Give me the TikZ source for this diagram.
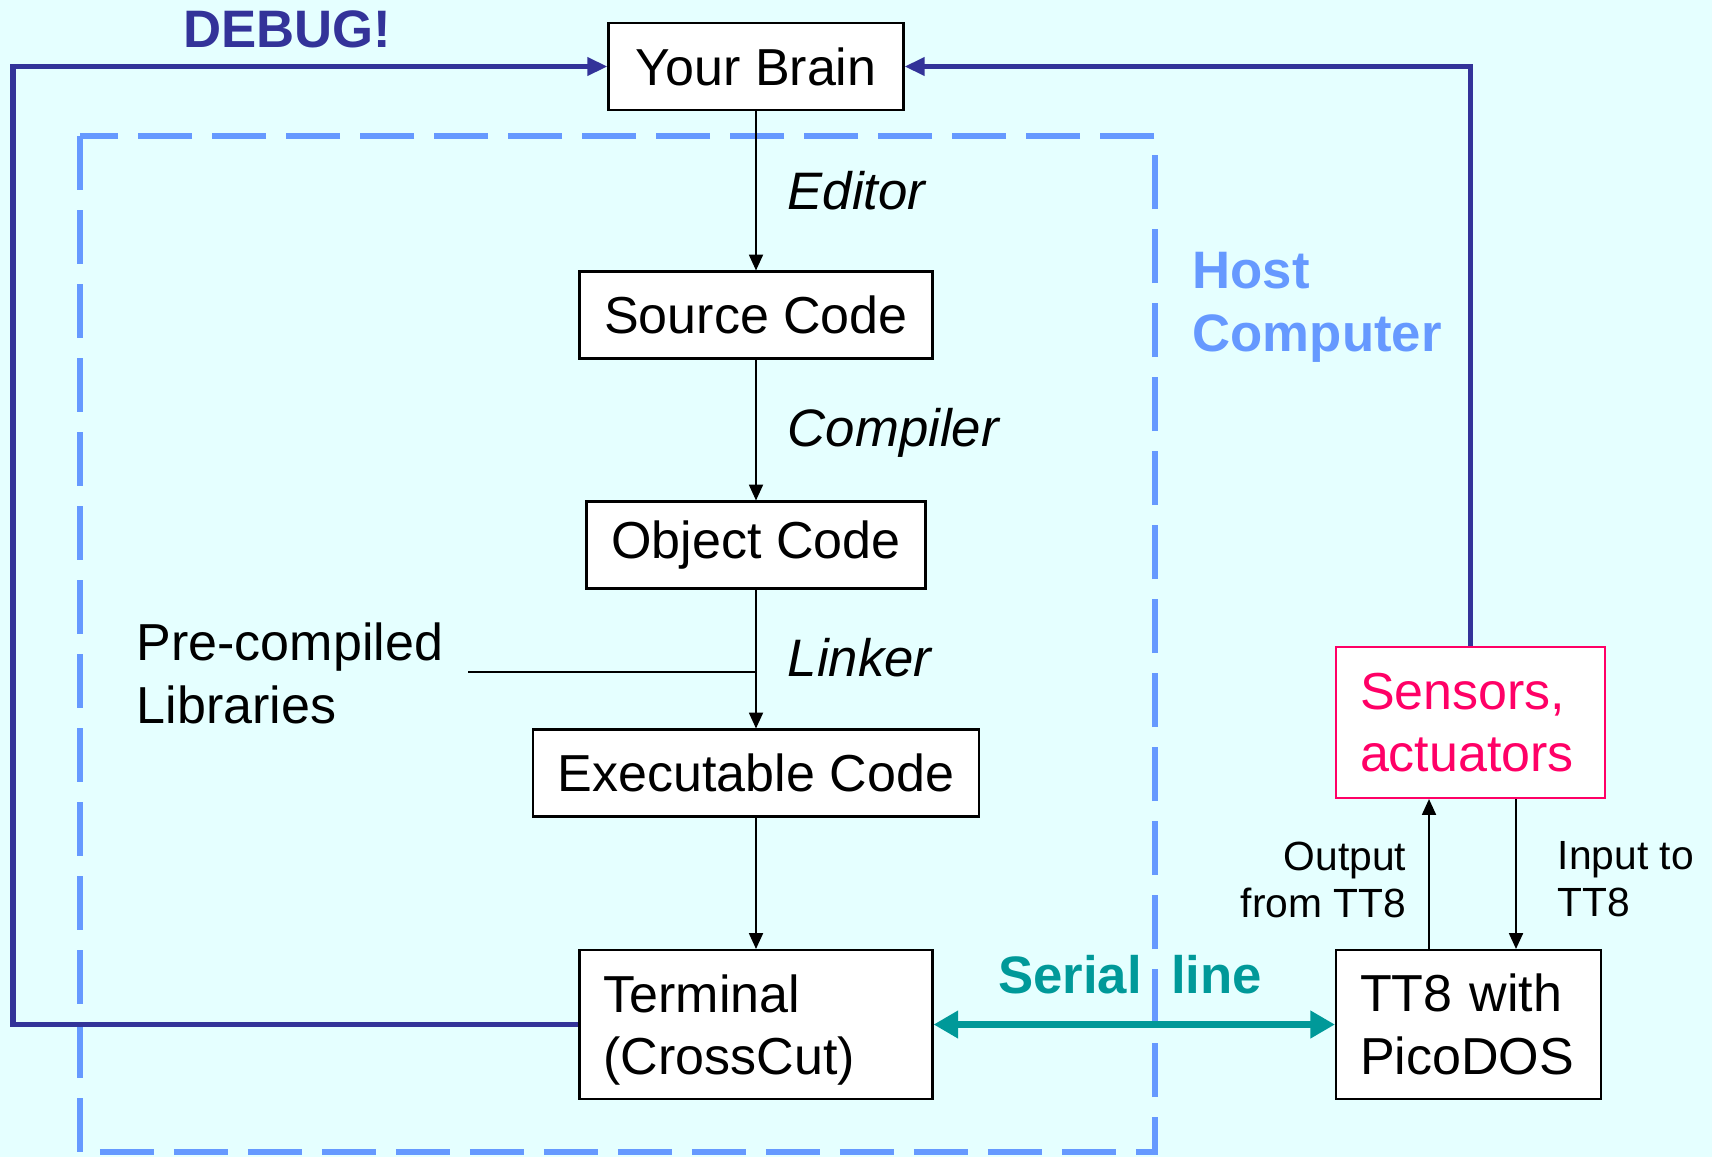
\documentclass[tikz,border=0pt]{standalone}
\usepackage{fontspec}
\setmainfont{Liberation Sans}
\usetikzlibrary{arrows.meta}
\definecolor{bgcyan}{RGB}{229,255,255}
\definecolor{debugblue}{RGB}{51,51,153}
\definecolor{hostblue}{RGB}{102,153,255}
\definecolor{serialteal}{RGB}{0,153,153}
\definecolor{sensorpink}{RGB}{255,0,102}
\tikzset{
  box/.style={draw=black,line width=0.6pt,fill=white,inner sep=0pt,
    minimum height=0.87cm,font=\fontsize{14.8}{17.8}\selectfont},
  tallbox/.style={box,minimum height=1.49cm,text width=#1,align=left,
    inner xsep=0.24cm},
  toollabel/.style={anchor=west,inner sep=0pt,font=\fontsize{15}{18}\selectfont\itshape},
  smalllabel/.style={inner sep=0pt,font=\fontsize{11.6}{13.4}\selectfont},
  flow/.style={line width=0.45pt,-{Triangle[length=4.5pt,width=4pt]}},
  debugline/.style={draw=debugblue,line width=1.6pt,
    -{Triangle[length=5.7pt,width=5pt]}},
  serialline/.style={draw=serialteal,line width=2pt,
    {Triangle[length=7pt,width=7.5pt]}-{Triangle[length=7pt,width=7.5pt]}},
  hostframe/.style={draw=hostblue,line width=1.5pt,dash pattern=on 0.54cm off 0.2cm}
}
\begin{document}
\begin{tikzpicture}
  \fill[bgcyan] (0,0) rectangle (17.12,-11.57);
  \useasboundingbox (0,0) rectangle (17.12,-11.57);
  % host computer frame
  \draw[hostframe] (0.80,-1.36) rectangle (11.55,-11.52);
  \draw
    (7.56,-0.665) node[box,minimum width=2.95cm] (brain){Your Brain}
    (7.56,-3.15) node[box,minimum width=3.53cm] (source){Source Code}
    (7.56,-5.45) node[box,minimum width=3.39cm] (object){Object Code}
    (7.56,-7.73) node[box,minimum width=4.46cm] (exec){Executable Code}
    (7.56,-10.245) node[tallbox=3.05cm] (term){Terminal\\\smash{(CrossCut)}}
    (14.685,-10.245) node[tallbox=2.17cm] (tt8){TT8 with\\PicoDOS}
    (14.705,-7.225) node[tallbox=2.21cm,draw=sensorpink,text=sensorpink,
      minimum height=1.51cm] (sensors){Sensors,\\actuators};
  \draw
    (7.87,-1.91) node[toollabel] (editor){Editor}
    (7.87,-4.33) node[toollabel] (compiler){Compiler}
    (7.87,-6.58) node[toollabel] (linker){Linker}
    (1.36,-6.73) node[anchor=west,align=left,inner sep=0pt,
      font=\fontsize{14.8}{17.9}\selectfont] (libs){Pre-compiled\\Libraries}
    (2.87,-0.29) node[text=debugblue,font=\fontsize{15}{18}\selectfont\bfseries] (debug){DEBUG!}
    (11.92,-3.07) node[anchor=west,align=left,inner sep=0pt,text=hostblue,
      font=\fontsize{15}{17.9}\selectfont\bfseries] (host){Host\\Computer}
    (11.30,-9.75) node[text=serialteal,font=\fontsize{15}{18}\selectfont\bfseries] (serial){Serial~~line}
    (14.07,-8.80) node[anchor=east,align=right,smalllabel] (output){Output\\from TT8}
    (15.57,-8.79) node[anchor=west,align=left,smalllabel] (input){Input to\\TT8};
  \coordinate (libend) at (4.68,-6.72);
  \coordinate (leftrail) at (0.13,0);
  \coordinate (outrail) at (14.29,0);
  \coordinate (inrail) at (15.16,0);
  \begin{scope}
    \draw[flow] (brain) to (source);
    \draw[flow] (source) to (object);
    \draw[flow] (object) to (exec);
    \draw[flow] (exec) to (term);
    \draw[line width=0.45pt] (libend) -- (libend -| object.south);
    \draw[debugline] (term.west) -- (term.west -| leftrail) |- (brain.west);
    \draw[debugline] (sensors.north) |- (brain.east);
    \draw[serialline] (term.east) -- (tt8.west);
    \draw[flow] (tt8.north -| outrail) -- (sensors.south -| outrail);
    \draw[flow] (sensors.south -| inrail) -- (tt8.north -| inrail);
  \end{scope}
\end{tikzpicture}
\end{document}
